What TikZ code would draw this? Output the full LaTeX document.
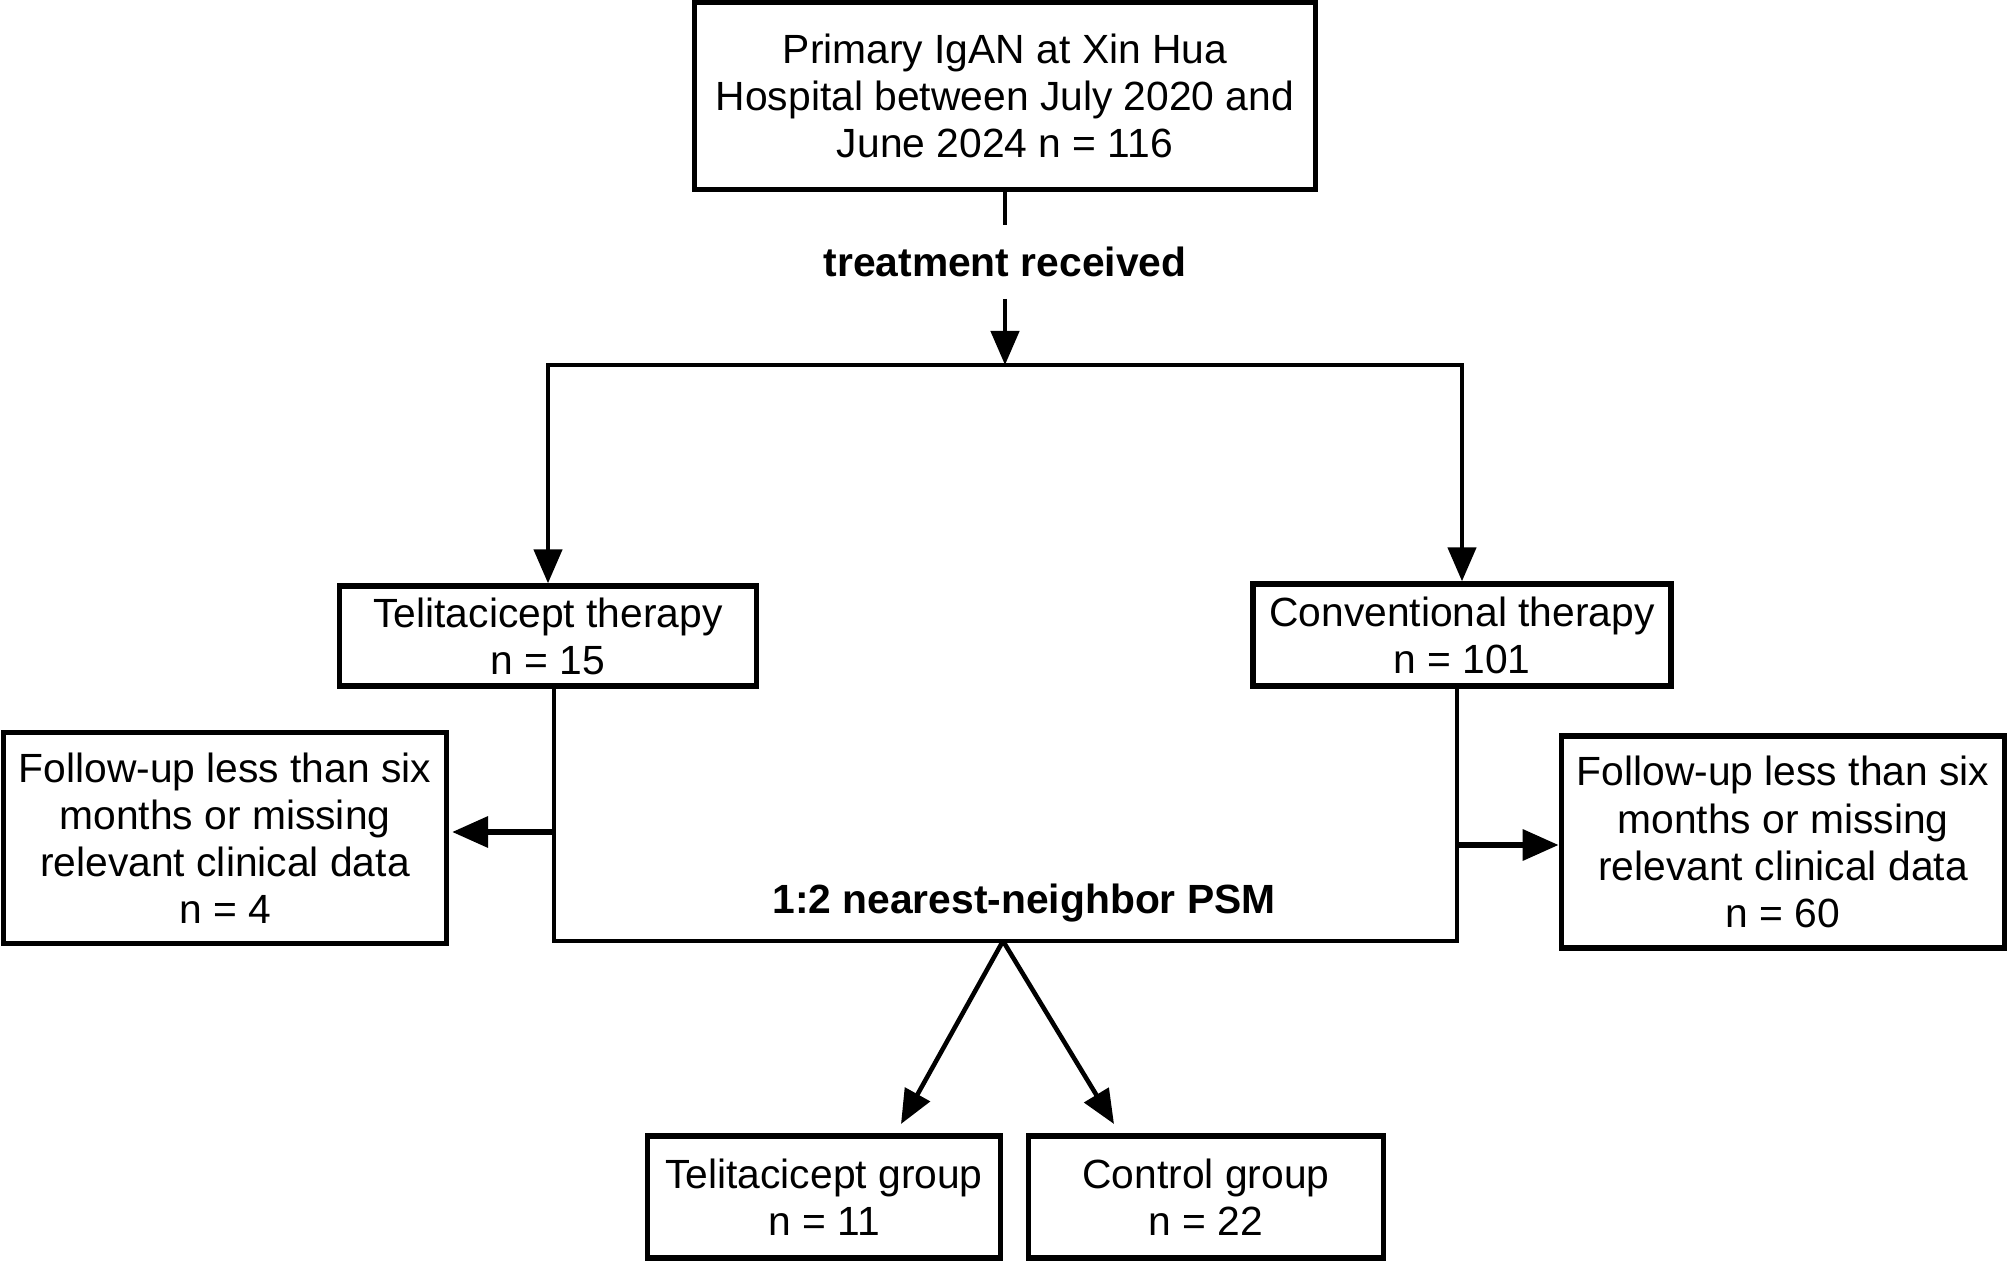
\documentclass[tikz,border=0pt]{standalone}
\usepackage{fontspec}
\setmainfont{Liberation Sans}
\usetikzlibrary{arrows.meta}

\begin{document}
\begin{tikzpicture}[x=0.01cm, y=-0.01cm,
  box/.style={draw, line width=1.5pt, align=center, inner sep=0pt,
    font=\fontsize{11.6}{13.4}\selectfont},
  lab/.style={font=\fontsize{11.6}{13.4}\selectfont\bfseries, inner xsep=2pt, inner ysep=6pt},
  line/.style={line width=1.3pt},
  arr/.style={line width=1.3pt, -{Triangle[length=0.34cm, width=0.28cm]}},
  sidearr/.style={line width=1.8pt, -{Triangle[length=0.36cm, width=0.3cm]}}]
%\draw[help lines] (0,0) grid[step=100] (2008,1261);
\useasboundingbox (0,0) rectangle (2008,1261);

 % cohort
 \node[box, minimum width=6.2cm, minimum height=1.87cm] (cohort) at (1005,96)
  {Primary IgAN at Xin Hua\\Hospital between July 2020 and\\June 2024 n = 116};
 \node[lab] (trt) at (1005,262) {treatment received};
 \coordinate (split) at (1005,365);

 \draw[line] (cohort) -- (trt);
 \draw[arr] (trt) -- (split);

 % two arms
 \node[box, minimum width=4.17cm, minimum height=1.0cm] (tel) at (548,636)
  {Telitacicept therapy\\n = 15};
 \node[box, minimum width=4.18cm, minimum height=1.02cm] (con) at (1462,635)
  {Conventional therapy\\n = 101};

 \draw[arr] (split) -| (tel.north);
 \draw[arr] (split) -| (con.north);

 % exclusions
 \node[box, minimum width=4.43cm, minimum height=2.11cm] (exl) at (225,838)
  {Follow-up less than six\\months or missing\\relevant clinical data\\n = 4};
 \node[box, minimum width=4.43cm, minimum height=2.12cm] (exr) at (1783,842)
  {Follow-up less than six\\months or missing\\relevant clinical data\\n = 60};

 \coordinate (join) at (1003,941);
 \draw[line] ([xshift=0.06cm]tel.south) |- (join) -| ([xshift=-0.05cm]con.south);
 \draw[sidearr] (554,832) -- (452,832);
 \draw[sidearr] (1457,845) -- (exr.west |- 0,845);

 \node[lab] (psm) at (1024,903) {1:2 nearest-neighbor PSM};

 % matched groups
 \node[box, minimum width=3.53cm, minimum height=1.22cm] (tgrp) at (824,1197)
  {Telitacicept group\\n = 11};
 \node[box, minimum width=3.55cm, minimum height=1.22cm] (cgrp) at (1206,1197)
  {Control group\\n = 22};

 \coordinate (ta) at (901,1124);
 \coordinate (ca) at (1114,1124);
 \draw[arr] (join) -- (ta);
 \draw[arr] (join) -- (ca);

\end{tikzpicture}
\end{document}
